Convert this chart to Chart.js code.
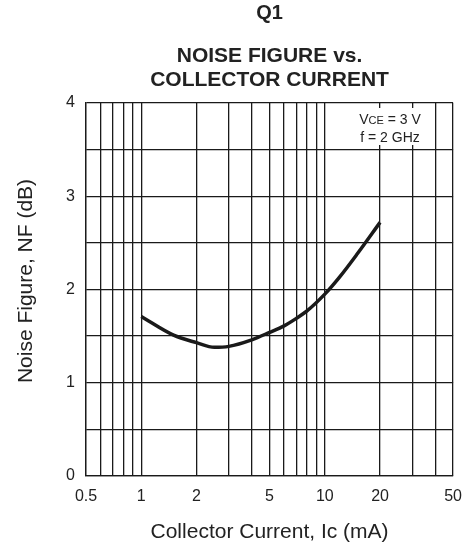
<!DOCTYPE html>
<html>
<head>
<meta charset="utf-8">
<script src="https://cdn.jsdelivr.net/npm/chart.js@4/dist/chart.umd.min.js"></script>
<style>
  body { margin: 0; background: #fff; }
  #wrap { width: 473px; height: 545px; }
</style>
</head>
<body>
<div id="wrap"><canvas id="grafico" width="473" height="545"></canvas></div>
<script>
// collector current (mA) and noise figure (dB)
const correnteMA = [1, 1.5, 2, 2.5, 3, 4, 5, 6, 7, 8, 10, 12, 15, 20];
const ruidoDB = [1.71, 1.51, 1.43, 1.38, 1.39, 1.46, 1.54, 1.61, 1.69, 1.77, 1.95, 2.13, 2.38, 2.72];

// grid positions and the ones that get a label
const gradeX = [0.5, 0.6, 0.7, 0.8, 0.9, 1, 2, 3, 4, 5, 6, 7, 8, 9, 10, 20, 30, 40, 50];
const rotulosX = [0.5, 1, 2, 5, 10, 20, 50];
const rotulosY = [0, 1, 2, 3, 4];

const fonte = 'Liberation Sans, Arial, sans-serif';
const corGrade = '#1a1a1a';

// titles, axis names and the condition box
const textos = {
  id: 'textos',
  afterDraw(chart) {
    const ctx = chart.ctx;
    const area = chart.chartArea;
    const cx = (area.left + area.right) / 2;
    ctx.save();
    ctx.fillStyle = '#222';
    ctx.textAlign = 'center';
    ctx.textBaseline = 'alphabetic';

    ctx.font = 'bold 20px ' + fonte;
    ctx.fillText('Q1', cx, 19);
    ctx.font = 'bold 21px ' + fonte;
    ctx.fillText('NOISE FIGURE vs.', cx, 62);
    ctx.fillText('COLLECTOR CURRENT', cx, 86);

    ctx.font = '21px ' + fonte;
    ctx.fillText('Collector Current, Ic (mA)', cx, 538);

    ctx.save();
    ctx.translate(32, 281);
    ctx.rotate(-Math.PI / 2);
    ctx.fillText('Noise Figure, NF (dB)', 0, 0);
    ctx.restore();

    // white box behind the conditions
    ctx.fillStyle = '#fff';
    ctx.fillRect(352, 108, 80, 37);

    ctx.fillStyle = '#222';
    ctx.textAlign = 'left';
    const partes = [['V', '14px '], ['CE', '11px '], [' = 3 V', '14px ']];
    let larg = 0;
    partes.forEach(p => { ctx.font = p[1] + fonte; larg += ctx.measureText(p[0]).width; });
    let x = 390 - larg / 2;
    partes.forEach(p => {
      ctx.font = p[1] + fonte;
      ctx.fillText(p[0], x, 124);
      x += ctx.measureText(p[0]).width;
    });
    ctx.font = '14px ' + fonte;
    ctx.textAlign = 'center';
    ctx.fillText('f = 2 GHz', 390, 142);
    ctx.restore();
  }
};

new Chart(document.getElementById('grafico').getContext('2d'), {
  type: 'line',
  data: {
    datasets: [{
      data: correnteMA.map((c, i) => ({ x: c, y: ruidoDB[i] })),
      borderColor: '#1a1a1a',
      borderWidth: 3.5,
      pointRadius: 0,
      cubicInterpolationMode: 'monotone',
      fill: false
    }]
  },
  options: {
    responsive: false,
    animation: false,
    layout: { padding: { top: 103, right: 9, left: 0, bottom: 0 } },
    plugins: {
      legend: { display: false },
      title: { display: false },
      tooltip: { enabled: false }
    },
    scales: {
      x: {
        type: 'logarithmic',
        min: 0.5,
        max: 50,
        afterBuildTicks: s => { s.ticks = gradeX.map(v => ({ value: v })); },
        afterFit: s => { s.height = 69; },
        grid: { color: corGrade, lineWidth: 1.3, drawTicks: false },
        border: { color: corGrade, width: 1.3 },
        ticks: {
          autoSkip: false,
          maxRotation: 0,
          padding: 11,
          color: '#222',
          font: { family: fonte, size: 16 },
          callback: v => rotulosX.includes(v) ? String(v) : ''
        }
      },
      y: {
        min: 0,
        max: 4,
        afterFit: s => { s.width = 86; },
        grid: { color: corGrade, lineWidth: 1.3, drawTicks: false },
        border: { color: corGrade, width: 1.3 },
        ticks: {
          stepSize: 0.5,
          padding: 11,
          color: '#222',
          font: { family: fonte, size: 16 },
          callback: v => rotulosY.includes(v) ? String(v) : ''
        }
      }
    }
  },
  plugins: [textos]
});
</script>
</body>
</html>
